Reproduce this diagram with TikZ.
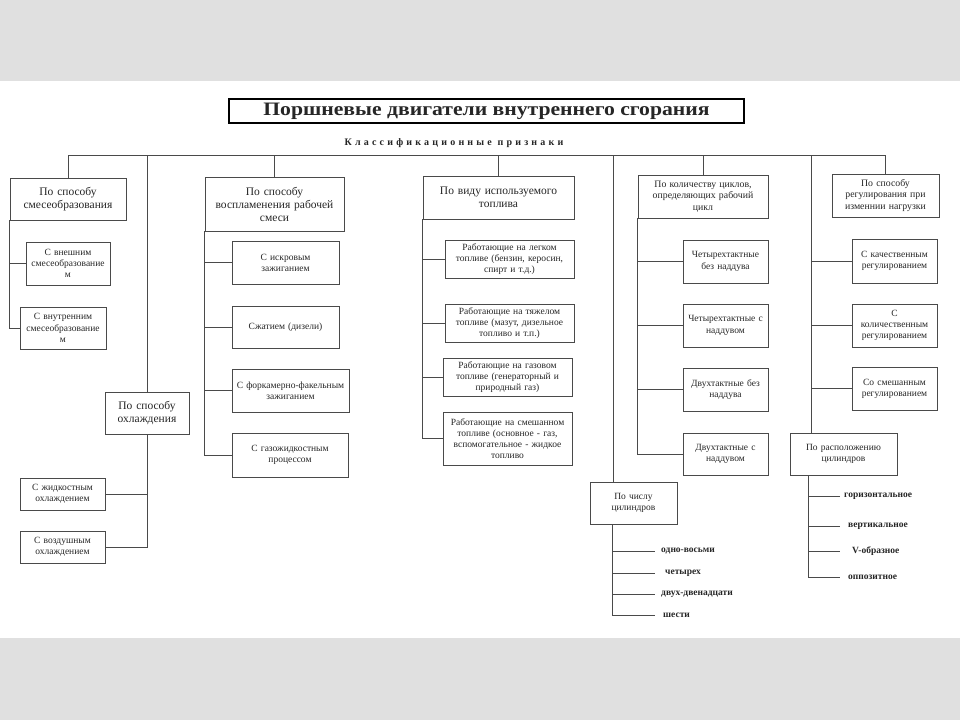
\documentclass[tikz,border=0pt]{standalone}
\usepackage{fontspec}
\usepackage{graphicx}
\setmainfont{Liberation Serif}
\newfontfamily\spacedfont[LetterSpace=32]{Liberation Serif}
\definecolor{band}{HTML}{E0E0E0}
\definecolor{ink}{HTML}{262626}
\definecolor{linec}{HTML}{4A4A4A}
\newcommand\mybox[7]{%
  \pgfmathsetmacro\myw{#4-#2}\pgfmathsetmacro\myh{#5-#3}\pgfmathsetmacro\mytw{#4-#2-2}%
  \node[#6, minimum width=\myw pt, minimum height=\myh pt, text width=\mytw pt] (#1) at ({(#2+#4)/2},{(#3+#5)/2}) {#7};}
\begin{document}
\begin{tikzpicture}[x=1pt,y=-1pt,
  cat/.style={draw=linec, line width=0.6pt, font=\fontsize{11.5}{13}\selectfont, text=ink, align=center, inner sep=0.5pt},
  sub/.style={cat, font=\fontsize{9.5}{11.2}\selectfont},
  mid/.style={cat, font=\fontsize{9.8}{11.4}\selectfont},
  lab/.style={font=\bfseries\fontsize{9.5}{11}\selectfont, text=ink, inner sep=2pt, anchor=west},
  wire/.style={draw=linec, line width=0.6pt}]
\useasboundingbox (0,0) rectangle (960,720);
\fill[white] (0,0) rectangle (960,720);
\fill[band] (0,0) rectangle (960,81);
\fill[band] (0,638) rectangle (960,720);

% title
\node[draw=black, line width=1.6pt, minimum width=515pt, minimum height=24pt, inner sep=0pt, text=ink] (title) at (486.5,111)
  {\scalebox{1.14}[1]{\bfseries\fontsize{19}{20}\selectfont Поршневые двигатели внутреннего сгорания}};
\node[font=\spacedfont\bfseries\fontsize{10}{11}\selectfont, text=ink, inner sep=1pt] (cls) at (454,143) {Классификационные признаки};

% category boxes
\mybox{b1}{10}{178}{126}{220}{cat}{По способу\\смесеобразования}
\mybox{s1}{26}{242}{110}{285}{sub}{С внешним\\смесеобразование\\м}
\mybox{s2}{20}{307}{106}{349}{sub}{С внутренним\\смесеобразование\\м}
\mybox{cool}{105}{392}{189}{434}{cat}{По способу\\охлаждения}
\mybox{c1}{20}{478}{105}{510}{sub}{С жидкостным\\охлаждением}
\mybox{c2}{20}{531}{105}{563}{sub}{С воздушным\\охлаждением}

\mybox{b2}{205}{177}{344}{231}{cat}{По способу\\воспламенения рабочей\\смеси}
\mybox{i1}{232}{241}{339}{284}{sub}{С искровым\\зажиганием}
\mybox{i2}{232}{306}{339}{348}{sub}{Сжатием (дизели)}
\mybox{i3}{232}{369}{349}{412}{sub}{С форкамерно-факельным\\зажиганием}
\mybox{i4}{232}{433}{348}{477}{sub}{С газожидкостным\\процессом}

\mybox{b3}{423}{176}{574}{219}{cat}{По виду используемого\\топлива}
\mybox{f1}{445}{240}{574}{278}{sub}{Работающие на легком\\топливе (бензин, керосин,\\спирт и т.д.)}
\mybox{f2}{445}{304}{574}{342}{sub}{Работающие на тяжелом\\топливе (мазут, дизельное\\топливо и т.п.)}
\mybox{f3}{443}{358}{572}{396}{sub}{Работающие на газовом\\топливе (генераторный и\\природный газ)}
\mybox{f4}{443}{412}{572}{465}{sub}{Работающие на смешанном\\топливе (основное - газ,\\вспомогательное - жидкое\\топливо}

\mybox{b4}{638}{175}{768}{218}{mid}{По количеству циклов,\\определяющих рабочий\\цикл}
\mybox{t1}{683}{240}{768}{283}{sub}{Четырехтактные\\без наддува}
\mybox{t2}{683}{304}{768}{347}{sub}{Четырехтактные с\\наддувом}
\mybox{t3}{683}{368}{768}{411}{sub}{Двухтактные без\\наддува}
\mybox{t4}{683}{433}{768}{475}{sub}{Двухтактные с\\наддувом}
\mybox{ncyl}{590}{482}{677}{524}{sub}{По числу\\цилиндров}

\mybox{b5}{832}{174}{939}{217}{mid}{По способу\\регулирования при\\изменнии нагрузки}
\mybox{r1}{852}{239}{937}{283}{sub}{С качественным\\регулированием}
\mybox{r2}{852}{304}{937}{347}{sub}{С\\количественным\\регулированием}
\mybox{r3}{852}{367}{937}{410}{sub}{Со смешанным\\регулированием}
\mybox{arr}{790}{433}{897}{475}{sub}{По расположению\\цилиндров}

% leaf labels
\node[lab] (n1) at (659,551) {одно-восьми};
\node[lab] (n2) at (663,573) {четырех};
\node[lab] (n3) at (659,594) {двух-двенадцати};
\node[lab] (n4) at (661,615) {шести};
\node[lab] (a1) at (842,496) {горизонтальное};
\node[lab] (a2) at (846,526) {вертикальное};
\node[lab] (a3) at (850,551) {V-образное};
\node[lab] (a4) at (846,577) {оппозитное};

% bus
\coordinate (bus) at (0,155);
\coordinate (tapN) at (613,155);
\coordinate (tapR) at (811,155);
\draw[wire] (b1.north) -- (b1.north |- bus) -- (b5.north |- bus) -- (b5.north);
\foreach \n in {b2,b3,b4,cool} \draw[wire] (\n.north) -- (\n.north |- bus);
\draw[wire] (tapN) -- (tapN |- ncyl.north);
\draw[wire] (tapR) -- (tapR |- arr.north);

% branches
\draw[wire] (b1.south west) |- (s2.west);
\draw[wire] (b1.south west |- s1.west) -- (s1.west);
\draw[wire] (cool.south) |- (c2.east);
\draw[wire] (cool.south |- c1.east) -- (c1.east);
\draw[wire] (b2.south west) |- (i4.west);
\foreach \n in {i1,i2,i3} \draw[wire] (b2.south west |- \n.west) -- (\n.west);
\draw[wire] (b3.south west) |- (f4.west);
\foreach \n in {f1,f2,f3} \draw[wire] (b3.south west |- \n.west) -- (\n.west);
\draw[wire] (b4.south west) |- (t4.west);
\foreach \n in {t1,t2,t3} \draw[wire] (b4.south west |- \n.west) -- (\n.west);
\foreach \n in {r1,r2,r3} \draw[wire] (tapR |- \n.west) -- (\n.west);

\coordinate (nv) at (612,524);
\draw[wire] (nv) -- (nv |- n4.west);
\foreach \n in {n1,n2,n3,n4} \draw[wire] (nv |- \n.west) -- (655,0 |- \n.west);
\coordinate (av) at (808,475);
\draw[wire] (av) -- (av |- a4.west);
\foreach \n in {a1,a2,a3,a4} \draw[wire] (av |- \n.west) -- (840,0 |- \n.west);
\end{tikzpicture}
\end{document}
